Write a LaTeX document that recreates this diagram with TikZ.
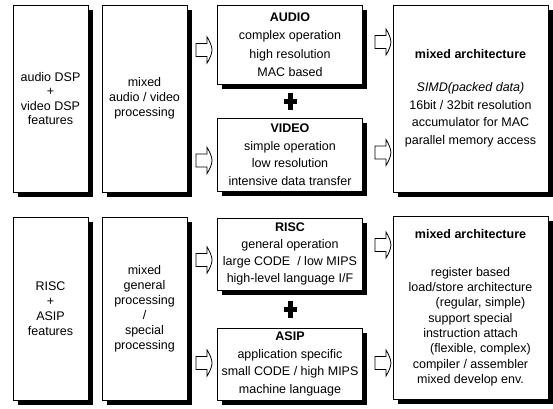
\documentclass[tikz,border=0pt]{standalone}
\usepackage{fontspec}
\setmainfont{Liberation Sans}
\usetikzlibrary{shadows,calc}
\tikzset{
  box/.style={draw, line width=0.9pt, fill=white, inner sep=0pt, align=center,
    drop shadow={shadow xshift=4.5pt, shadow yshift=-4.5pt, fill=black, opacity=1}},
  fs/.style={font=\fontsize{12.5}{#1}\selectfont},
  plusbar/.style={line width=5pt},
  barrow/.pic={
    \draw[line width=0.8pt, fill=white] (0,-6.5) -- (11,-6.5) -- (11,-13)
      .. controls (13,-10) and (16,-4) .. (16,0)
      .. controls (16,4) and (13,10) .. (11,13) -- (11,6.5) -- (0,6.5) -- cycle;
  }
}
\begin{document}
\begin{tikzpicture}[x=1pt,y=-1pt]
\useasboundingbox (0,0) rectangle (553,408);

% ---------- top row ----------
\node[box, fs=14.5, minimum width=75pt, minimum height=187pt] (f1) at (50.5,98.5)
  {audio DSP\\+\\video DSP\\features};
\node[box, fs=15, minimum width=85pt, minimum height=187pt] (p1) at (144.5,98.5)
  {mixed\\audio / video\\processing};
\node[box, fs=18.5, minimum width=145pt, minimum height=79pt] (audio) at (290,44.5)
  {\textbf{AUDIO}\\complex operation\\high resolution\\MAC based};
\node[box, fs=17.5, minimum width=145pt, minimum height=73pt] (video) at (290,154.5)
  {\textbf{VIDEO}\\simple operation\\low resolution\\intensive data transfer};
\node[box, fs=17.5, minimum width=155pt, minimum height=187pt] (arch1) at (470.5,98.5)
  {\textbf{mixed architecture}\\[15.5pt]\textit{SIMD(packed data)}\\16bit / 32bit resolution\\accumulator for MAC\\parallel memory access};

\coordinate (pl1) at ($(audio.south)!0.5!(video.north)$);
\draw[plusbar] ([xshift=-6.5pt]pl1) -- ([xshift=6.5pt]pl1);
\draw[plusbar] ([yshift=-8.5pt]pl1) -- ([yshift=8.5pt]pl1);

\pic at ([xshift=-21pt,yshift=-5.5pt]audio.west) {barrow};
\pic at ([xshift=-21pt,yshift=-6pt]video.west) {barrow};
\pic at ([xshift=12pt,yshift=2.5pt]audio.east) {barrow};
\pic at ([xshift=12pt,yshift=2pt]video.east) {barrow};

% ---------- bottom row ----------
\node[box, fs=15, minimum width=75pt, minimum height=183pt] (f2) at (50.5,308.5)
  {RISC\\+\\ASIP\\features};
\node[box, fs=15, minimum width=85pt, minimum height=183pt] (p2) at (144.5,308.5)
  {mixed\\general\\processing\\/\\special\\processing};
\node[box, fs=17, minimum width=145pt, minimum height=72pt] (risc) at (290,254)
  {\textbf{RISC}\\general operation\\large CODE \ / low MIPS\\high-level language I/F};
\node[box, fs=17.5, minimum width=145pt, minimum height=72pt] (asip) at (290,364)
  {\textbf{ASIP}\\application specific\\small CODE / high MIPS\\machine language};
\node[box, fs=15.3, minimum width=155pt, minimum height=183pt] (arch2) at (470.5,307.5)
  {\textbf{mixed architecture}\\[23pt]register based\\load/store architecture\\\hspace*{1.6em}(regular, simple)\\support special\\instruction attach\\\hspace*{1.6em}(flexible, complex)\\compiler / assembler\\mixed develop env.};

\coordinate (pl2) at ($(risc.south)!0.5!(asip.north)$);
\draw[plusbar] ([xshift=-6.5pt]pl2) -- ([xshift=6.5pt]pl2);
\draw[plusbar] ([yshift=-8.5pt]pl2) -- ([yshift=8.5pt]pl2);

\pic at ([xshift=-21pt,yshift=-6pt]risc.west) {barrow};
\pic at ([xshift=-21pt,yshift=1pt]asip.west) {barrow};
\pic at ([xshift=12pt,yshift=9pt]risc.east) {barrow};
\pic at ([xshift=12pt,yshift=1pt]asip.east) {barrow};
\end{tikzpicture}
\end{document}
